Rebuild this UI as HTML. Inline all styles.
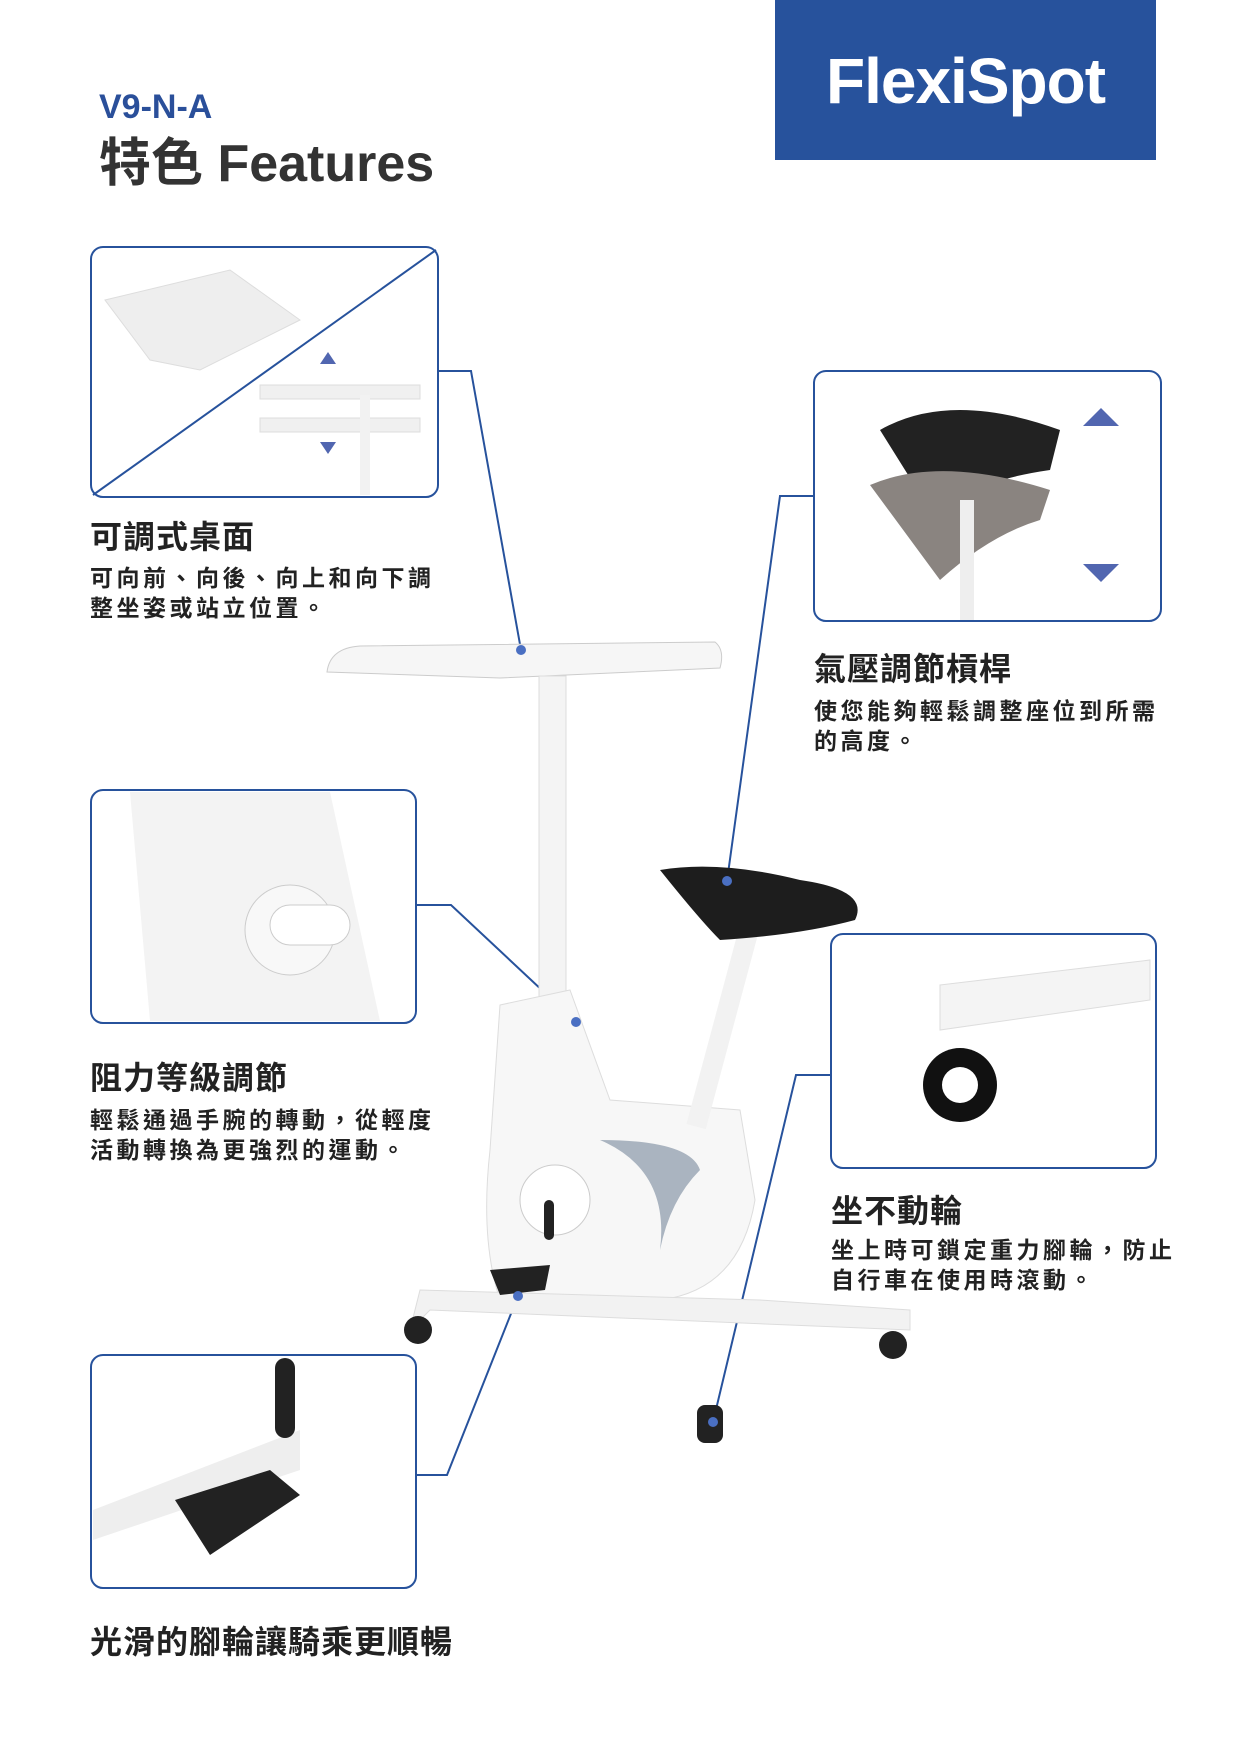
<!DOCTYPE html>
<html><head><meta charset="utf-8"><style>
body{margin:0;background:#fff}
.p{position:relative;width:1240px;height:1754px;overflow:hidden;font-family:"Liberation Sans","Noto Sans CJK TC",sans-serif;color:#222}
.t{position:absolute;font-weight:bold;white-space:nowrap}
.h{font-size:32px;letter-spacing:1px}
.d{font-size:23px;line-height:30px;letter-spacing:3.5px}
</style></head><body><div class="p">
<div style="position:absolute;left:775px;top:0;width:381px;height:160px;background:#27529c"></div>
<div class="t" style="left:775px;top:44px;width:381px;text-align:center;color:#fff;font-size:64px;letter-spacing:-1px">FlexiSpot</div>
<div class="t" style="left:99px;top:88px;font-size:34px;color:#2a4f9a">V9-N-A</div>
<div class="t" style="left:99px;top:121px;font-size:52px;color:#333">特色 Features</div>

<svg width="1240" height="1754" style="position:absolute;left:0;top:0">
<g fill="none" stroke="#27529c" stroke-width="2">
<rect x="91" y="247" width="347" height="250" rx="12"/>
<line x1="93" y1="495" x2="436" y2="250"/>
<rect x="814" y="371" width="347" height="250" rx="12"/>
<rect x="91" y="790" width="325" height="233" rx="12"/>
<rect x="831" y="934" width="325" height="234" rx="12"/>
<rect x="91" y="1355" width="325" height="233" rx="12"/>
<polyline points="438,371 471,371 521,650"/>
<polyline points="814,496 780,496 727,881"/>
<polyline points="416,905 451,905 576,1022"/>
<polyline points="831,1075 796,1075 713,1422"/>
<polyline points="416,1475 447,1475 518,1296"/>
</g>
<path d="M105,300 L230,270 L300,320 L200,370 L150,360 Z" fill="#eeeeee" stroke="#ddd"/>
<rect x="260" y="385" width="160" height="14" fill="#f0f0f0" stroke="#ddd"/>
<rect x="260" y="418" width="160" height="14" fill="#f0f0f0" stroke="#ddd"/>
<rect x="360" y="395" width="10" height="100" fill="#f2f2f2"/>
<path d="M328,352 l-8,12 h16 z M328,454 l-8,-12 h16 z" fill="#5166b0"/>
<path d="M880,430 Q950,390 1060,430 L1050,470 Q980,480 930,510 Z" fill="#222"/>
<path d="M870,485 Q940,455 1050,490 L1040,520 Q990,535 940,580 Z" fill="#8a8480"/>
<rect x="960" y="500" width="14" height="120" fill="#eee"/>
<path d="M1101,408 l-18,18 h36 z M1101,582 l-18,-18 h36 z" fill="#5166b0"/>
<path d="M130,792 L330,792 L380,1021 L150,1021 Z" fill="#f3f3f3"/>
<circle cx="290" cy="930" r="45" fill="#f8f8f8" stroke="#ccc"/>
<rect x="270" y="905" width="80" height="40" rx="20" fill="#fff" stroke="#ccc"/>
<path d="M940,985 L1150,960 L1150,1000 L940,1030 Z" fill="#f4f4f4" stroke="#ddd"/>
<circle cx="960" cy="1085" r="37" fill="#111"/><circle cx="960" cy="1085" r="18" fill="#fff"/>
<path d="M93,1510 L300,1430 L300,1470 L93,1540 Z" fill="#eee"/>
<path d="M175,1500 L270,1470 L300,1495 L210,1555 Z" fill="#222"/>
<rect x="275" y="1358" width="20" height="80" rx="10" fill="#222"/>
<path d="M327,672 Q330,648 360,646 L715,642 Q725,650 720,668 L500,678 Z" fill="#f6f6f6" stroke="#ccc"/>
<rect x="539" y="676" width="27" height="330" fill="#f4f4f4" stroke="#ddd"/>
<path d="M500,1005 L570,990 L610,1100 L740,1110 L755,1200 Q740,1290 660,1300 L500,1300 Q480,1240 490,1150 Z" fill="#f7f7f7" stroke="#ddd"/>
<circle cx="555" cy="1200" r="35" fill="#fff" stroke="#ccc"/>
<rect x="544" y="1200" width="10" height="40" rx="5" fill="#222"/>
<path d="M600,1140 Q690,1140 700,1170 Q670,1200 660,1250 Q670,1170 600,1140Z" fill="#aab4c0"/>
<rect x="712" y="930" width="20" height="200" fill="#f2f2f2" transform="rotate(15 722 1030)"/>
<path d="M660,870 Q720,860 800,880 Q870,890 855,920 Q800,935 720,940 Q700,920 660,870 Z" fill="#1d1d1d"/>
<path d="M420,1290 L760,1300 L910,1310 L910,1330 L430,1310 L410,1330 Z" fill="#f2f2f2" stroke="#ddd"/>
<circle cx="418" cy="1330" r="14" fill="#222"/><circle cx="893" cy="1345" r="14" fill="#222"/>
<rect x="697" y="1405" width="26" height="38" rx="8" fill="#222"/>
<path d="M490,1270 L550,1265 L545,1290 L500,1295 Z" fill="#222"/>
<circle cx="521" cy="650" r="5" fill="#4a6fc2"/><circle cx="727" cy="881" r="5" fill="#4a6fc2"/>
<circle cx="576" cy="1022" r="5" fill="#4a6fc2"/><circle cx="713" cy="1422" r="5" fill="#4a6fc2"/>
<circle cx="518" cy="1296" r="5" fill="#4a6fc2"/>
</svg>

<div class="t h" style="left:90px;top:512px">可調式桌面</div>
<div class="t d" style="left:90px;top:563px">可向前、向後、向上和向下調<br>整坐姿或站立位置。</div>
<div class="t h" style="left:814px;top:644px">氣壓調節槓桿</div>
<div class="t d" style="left:814px;top:696px">使您能夠輕鬆調整座位到所需<br>的高度。</div>
<div class="t h" style="left:90px;top:1053px">阻力等級調節</div>
<div class="t d" style="left:90px;top:1105px">輕鬆通過手腕的轉動，從輕度<br>活動轉換為更強烈的運動。</div>
<div class="t h" style="left:831px;top:1186px">坐不動輪</div>
<div class="t d" style="left:831px;top:1235px">坐上時可鎖定重力腳輪，防止<br>自行車在使用時滾動。</div>
<div class="t h" style="left:90px;top:1617px">光滑的腳輪讓騎乘更順暢</div>
</div></body></html>
